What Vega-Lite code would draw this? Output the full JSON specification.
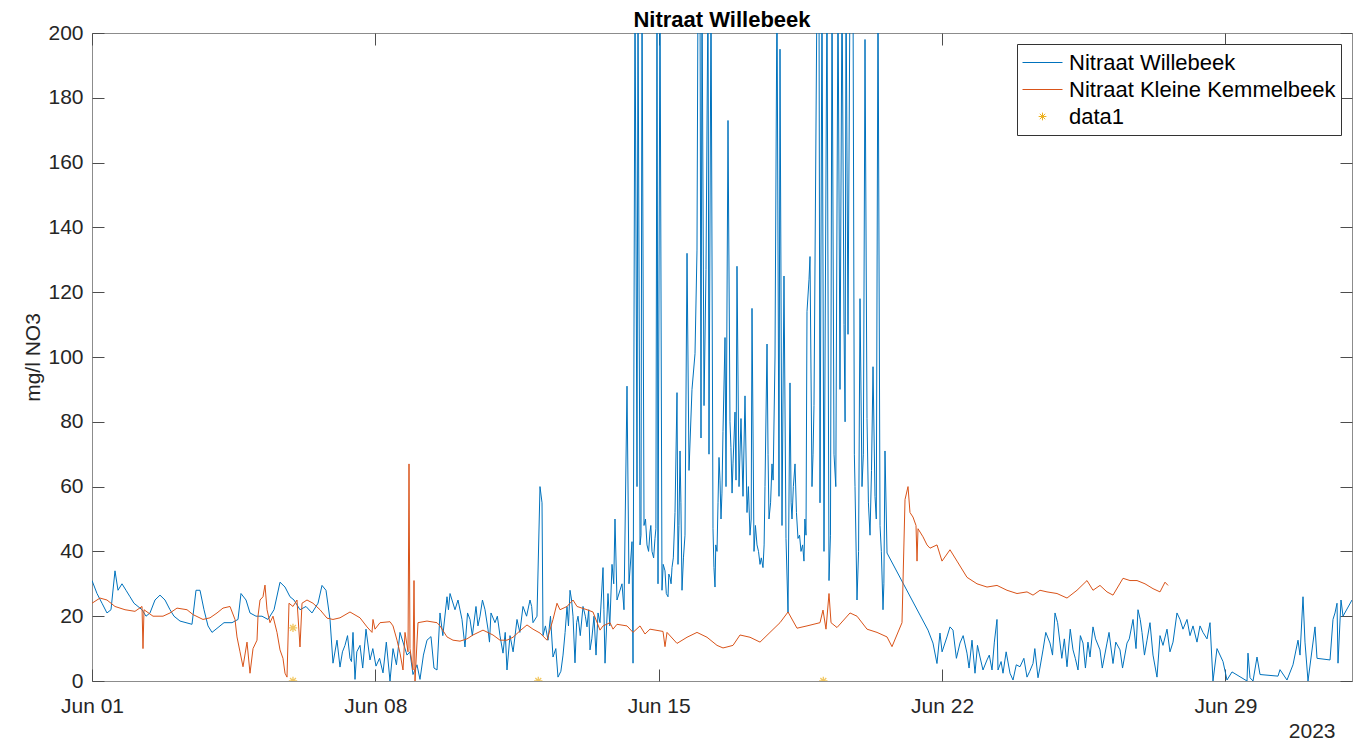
{
"$schema":"https://vega.github.io/schema/vega-lite/v6.json",
"width":1260,"height":648,
"autosize":"none",
"padding":{"left":92,"top":33,"right":11,"bottom":61},
"background":"white",
"title":{"text":"Nitraat Willebeek","fontSize":22,"font":"Liberation Sans","fontWeight":"bold","color":"#000000","offset":-10},
"config":{
 "view":{"stroke":"#8c8c8c","strokeWidth":1},
 "font":"Liberation Sans",
 "legend":{"orient":"top-right","offset":11,"labelFontSize":22,"labelFont":"Liberation Sans","labelColor":"#000000","strokeColor":"#333333","fillColor":"#ffffff","padding":5,"rowPadding":0,"clipHeight":27,"symbolType":"stroke","symbolSize":400,"symbolStrokeWidth":1,"labelOffset":6,"labelLimit":500}
},
"datasets":{
"w":[
{"t":"2023-06-01T00:00","v":31},{"t":"2023-06-01T02:58","v":27},{"t":"2023-06-01T05:56","v":24},{"t":"2023-06-01T08:53","v":21},{"t":"2023-06-01T11:16","v":22},{"t":"2023-06-01T13:38","v":34},{"t":"2023-06-01T15:25","v":28},{"t":"2023-06-01T17:47","v":30},{"t":"2023-06-01T20:10","v":28},{"t":"2023-06-01T22:32","v":26},
{"t":"2023-06-02T00:54","v":24},{"t":"2023-06-02T03:16","v":23},{"t":"2023-06-02T05:39","v":22},{"t":"2023-06-02T08:01","v":20},{"t":"2023-06-02T10:23","v":21},{"t":"2023-06-02T13:21","v":25},{"t":"2023-06-02T16:19","v":26.5},{"t":"2023-06-02T19:17","v":25},{"t":"2023-06-02T22:15","v":22},
{"t":"2023-06-03T00:37","v":20},{"t":"2023-06-03T04:11","v":18.5},{"t":"2023-06-03T07:44","v":18},{"t":"2023-06-03T11:17","v":17.5},{"t":"2023-06-03T13:40","v":28},{"t":"2023-06-03T16:02","v":28},{"t":"2023-06-03T18:24","v":22},{"t":"2023-06-03T20:47","v":17},{"t":"2023-06-03T23:09","v":15},
{"t":"2023-06-04T02:43","v":16.5},{"t":"2023-06-04T06:16","v":18},{"t":"2023-06-04T11:01","v":18},{"t":"2023-06-04T14:34","v":19},{"t":"2023-06-04T16:20","v":27},{"t":"2023-06-04T19:19","v":25},{"t":"2023-06-04T21:41","v":21},
{"t":"2023-06-05T01:14","v":20},{"t":"2023-06-05T04:47","v":20},{"t":"2023-06-05T08:21","v":19},{"t":"2023-06-05T11:55","v":22},{"t":"2023-06-05T15:28","v":30.5},{"t":"2023-06-05T18:26","v":29},{"t":"2023-06-05T21:24","v":26},{"t":"2023-06-05T23:46","v":25},
{"t":"2023-06-06T03:19","v":22},{"t":"2023-06-06T06:53","v":23},{"t":"2023-06-06T10:26","v":21},{"t":"2023-06-06T14:00","v":24},{"t":"2023-06-06T16:22","v":29.5},{"t":"2023-06-06T18:44","v":28},{"t":"2023-06-06T21:07","v":19},{"t":"2023-06-06T22:53","v":5.5},
{"t":"2023-06-07T01:16","v":12.6},{"t":"2023-06-07T03:02","v":4.3},{"t":"2023-06-07T06:00","v":11},{"t":"2023-06-07T08:58","v":7},{"t":"2023-06-07T10:45","v":15},{"t":"2023-06-07T11:56","v":0.5},{"t":"2023-06-07T14:54","v":11},{"t":"2023-06-07T18:27","v":16},{"t":"2023-06-07T20:50","v":6.5},
{"t":"2023-06-08T00:23","v":4.6},{"t":"2023-06-08T04:32","v":2.5},{"t":"2023-06-08T08:41","v":0},{"t":"2023-06-08T10:28","v":10},{"t":"2023-06-08T14:37","v":15},{"t":"2023-06-08T16:23","v":12},{"t":"2023-06-08T18:46","v":8},{"t":"2023-06-08T22:19","v":2},
{"t":"2023-06-09T00:41","v":5},{"t":"2023-06-09T02:28","v":0.5},{"t":"2023-06-09T06:37","v":12.6},{"t":"2023-06-09T08:59","v":13.7},{"t":"2023-06-09T10:46","v":4},{"t":"2023-06-09T12:33","v":3.4},{"t":"2023-06-09T14:20","v":21},{"t":"2023-06-09T18:29","v":26},{"t":"2023-06-09T20:16","v":27},{"t":"2023-06-09T23:13","v":22},
{"t":"2023-06-10T03:22","v":19},{"t":"2023-06-10T05:09","v":10.5},{"t":"2023-06-10T08:07","v":19},{"t":"2023-06-10T11:40","v":23},{"t":"2023-06-10T14:03","v":20},{"t":"2023-06-10T17:01","v":22},{"t":"2023-06-10T18:47","v":16},{"t":"2023-06-10T20:34","v":21},{"t":"2023-06-10T22:56","v":18},
{"t":"2023-06-11T01:54","v":14},{"t":"2023-06-11T03:41","v":8.6},{"t":"2023-06-11T06:03","v":3.4},{"t":"2023-06-11T07:50","v":14},{"t":"2023-06-11T11:59","v":19},{"t":"2023-06-11T15:32","v":23},{"t":"2023-06-11T19:41","v":25},{"t":"2023-06-11T21:28","v":18},{"t":"2023-06-11T23:50","v":20},
{"t":"2023-06-12T01:37","v":60},{"t":"2023-06-12T02:49","v":55},{"t":"2023-06-12T03:24","v":14},{"t":"2023-06-12T06:22","v":12.6},{"t":"2023-06-12T09:20","v":7.4},{"t":"2023-06-12T12:17","v":1.2},{"t":"2023-06-12T15:16","v":8},{"t":"2023-06-12T17:38","v":23},{"t":"2023-06-12T19:25","v":28},{"t":"2023-06-12T21:11","v":20},{"t":"2023-06-12T22:22","v":5.6},
{"t":"2023-06-13T00:09","v":20},{"t":"2023-06-13T03:07","v":23},{"t":"2023-06-13T05:29","v":16.7},{"t":"2023-06-13T07:16","v":9.6},{"t":"2023-06-13T09:38","v":20},{"t":"2023-06-13T12:01","v":21},{"t":"2023-06-13T13:12","v":18},{"t":"2023-06-13T14:59","v":35},{"t":"2023-06-13T16:10","v":5.5},{"t":"2023-06-13T17:56","v":27},{"t":"2023-06-13T20:19","v":36},{"t":"2023-06-13T22:05","v":50},{"t":"2023-06-13T23:16","v":25},
{"t":"2023-06-14T02:14","v":30},{"t":"2023-06-14T03:25","v":22},{"t":"2023-06-14T05:12","v":91},{"t":"2023-06-14T06:23","v":30},{"t":"2023-06-14T08:10","v":43},{"t":"2023-06-14T08:46","v":5.5},{"t":"2023-06-14T09:57","v":215},{"t":"2023-06-14T11:08","v":60},{"t":"2023-06-14T11:43","v":215},{"t":"2023-06-14T12:55","v":42},{"t":"2023-06-14T14:06","v":215},{"t":"2023-06-14T15:17","v":48},{"t":"2023-06-14T17:04","v":42},{"t":"2023-06-14T18:50","v":46},{"t":"2023-06-14T20:01","v":40},{"t":"2023-06-14T21:48","v":44},{"t":"2023-06-14T22:59","v":215},{"t":"2023-06-14T23:35","v":30},
{"t":"2023-06-15T00:46","v":215},{"t":"2023-06-15T01:57","v":28},{"t":"2023-06-15T03:44","v":34},{"t":"2023-06-15T05:31","v":26},{"t":"2023-06-15T06:42","v":32},{"t":"2023-06-15T07:53","v":35},{"t":"2023-06-15T09:40","v":52},{"t":"2023-06-15T10:51","v":89},{"t":"2023-06-15T11:26","v":36},{"t":"2023-06-15T12:38","v":71},{"t":"2023-06-15T13:49","v":28},{"t":"2023-06-15T15:35","v":45},{"t":"2023-06-15T16:47","v":132},{"t":"2023-06-15T17:58","v":65},{"t":"2023-06-15T19:44","v":90},{"t":"2023-06-15T21:31","v":101},{"t":"2023-06-15T22:42","v":133},{"t":"2023-06-15T23:18","v":215},
{"t":"2023-06-16T00:29","v":215},{"t":"2023-06-16T01:05","v":75},{"t":"2023-06-16T01:40","v":215},{"t":"2023-06-16T02:52","v":85},{"t":"2023-06-16T04:02","v":127},{"t":"2023-06-16T05:14","v":215},{"t":"2023-06-16T05:49","v":70},{"t":"2023-06-16T07:01","v":215},{"t":"2023-06-16T08:11","v":47},{"t":"2023-06-16T09:23","v":29},{"t":"2023-06-16T10:34","v":40},{"t":"2023-06-16T11:45","v":69},{"t":"2023-06-16T12:56","v":50},{"t":"2023-06-16T14:07","v":77},{"t":"2023-06-16T15:19","v":106},{"t":"2023-06-16T15:54","v":60},{"t":"2023-06-16T17:05","v":173},{"t":"2023-06-16T18:16","v":80},{"t":"2023-06-16T20:03","v":67},{"t":"2023-06-16T21:14","v":83},{"t":"2023-06-16T22:25","v":128},{"t":"2023-06-16T23:37","v":60},
{"t":"2023-06-17T00:47","v":81},{"t":"2023-06-17T01:59","v":57},{"t":"2023-06-17T03:10","v":88},{"t":"2023-06-17T04:21","v":52},{"t":"2023-06-17T06:08","v":45},{"t":"2023-06-17T07:19","v":115},{"t":"2023-06-17T08:30","v":40},{"t":"2023-06-17T10:17","v":42},{"t":"2023-06-17T12:04","v":36},{"t":"2023-06-17T13:50","v":35},{"t":"2023-06-17T15:01","v":60},{"t":"2023-06-17T16:13","v":104},{"t":"2023-06-17T17:23","v":50},{"t":"2023-06-17T19:10","v":67},{"t":"2023-06-17T20:57","v":100},{"t":"2023-06-17T22:08","v":215},{"t":"2023-06-17T23:19","v":57},{"t":"2023-06-17T23:55","v":195},
{"t":"2023-06-18T01:06","v":48},{"t":"2023-06-18T02:17","v":125},{"t":"2023-06-18T03:28","v":44},{"t":"2023-06-18T04:40","v":21},{"t":"2023-06-18T05:50","v":92},{"t":"2023-06-18T07:02","v":50},{"t":"2023-06-18T08:49","v":67},{"t":"2023-06-18T10:35","v":44},{"t":"2023-06-18T12:22","v":40},{"t":"2023-06-18T14:08","v":37},{"t":"2023-06-18T15:20","v":45},{"t":"2023-06-18T15:55","v":114},{"t":"2023-06-18T17:07","v":124},{"t":"2023-06-18T17:42","v":131},{"t":"2023-06-18T18:53","v":60},{"t":"2023-06-18T20:04","v":85},{"t":"2023-06-18T21:51","v":215},{"t":"2023-06-18T23:02","v":215},{"t":"2023-06-18T23:38","v":55},
{"t":"2023-06-19T00:49","v":215},{"t":"2023-06-19T02:00","v":40},{"t":"2023-06-19T03:47","v":215},{"t":"2023-06-19T04:58","v":31},{"t":"2023-06-19T06:45","v":215},{"t":"2023-06-19T07:56","v":70},{"t":"2023-06-19T10:18","v":215},{"t":"2023-06-19T11:29","v":90},{"t":"2023-06-19T12:41","v":215},{"t":"2023-06-19T13:52","v":110},{"t":"2023-06-19T15:03","v":215},{"t":"2023-06-19T16:14","v":107},{"t":"2023-06-19T17:25","v":215},{"t":"2023-06-19T19:12","v":215},{"t":"2023-06-19T20:23","v":60},{"t":"2023-06-19T21:34","v":25},{"t":"2023-06-19T23:21","v":118},
{"t":"2023-06-20T00:32","v":60},{"t":"2023-06-20T02:19","v":198},{"t":"2023-06-20T03:30","v":81},{"t":"2023-06-20T05:17","v":45},{"t":"2023-06-20T07:04","v":97},{"t":"2023-06-20T08:14","v":57},{"t":"2023-06-20T10:01","v":215},{"t":"2023-06-20T11:13","v":48},{"t":"2023-06-20T12:59","v":22},{"t":"2023-06-20T14:10","v":71},{"t":"2023-06-20T15:22","v":39.5},
{"t":"2023-06-21T15:40","v":15.7},{"t":"2023-06-21T18:37","v":11.7},{"t":"2023-06-21T20:59","v":5.4},{"t":"2023-06-21T22:46","v":14.8},
{"t":"2023-06-22T02:55","v":13.6},{"t":"2023-06-22T04:42","v":16.7},{"t":"2023-06-22T06:29","v":15.7},{"t":"2023-06-22T10:38","v":11.7},{"t":"2023-06-22T14:47","v":8.6},{"t":"2023-06-22T17:45","v":12.6},{"t":"2023-06-22T19:32","v":2.4},{"t":"2023-06-22T22:29","v":7.4},
{"t":"2023-06-23T00:16","v":3.4},{"t":"2023-06-23T02:39","v":6.5},{"t":"2023-06-23T05:37","v":3.4},{"t":"2023-06-23T08:34","v":19},{"t":"2023-06-23T09:10","v":3.4},{"t":"2023-06-23T12:08","v":2.4},{"t":"2023-06-23T16:17","v":2.4},{"t":"2023-06-23T18:04","v":0.3},{"t":"2023-06-23T22:13","v":4.4},
{"t":"2023-06-24T02:22","v":1.2},{"t":"2023-06-24T05:55","v":5.4},{"t":"2023-06-24T08:53","v":1},{"t":"2023-06-24T11:51","v":9.6},{"t":"2023-06-24T16:00","v":11.7},{"t":"2023-06-24T18:58","v":21},{"t":"2023-06-24T21:56","v":11.7},
{"t":"2023-06-25T02:05","v":4.4},{"t":"2023-06-25T05:38","v":9.6},{"t":"2023-06-25T08:36","v":3.4},{"t":"2023-06-25T11:34","v":11.7},{"t":"2023-06-25T15:43","v":7.4},{"t":"2023-06-25T17:29","v":16.7},{"t":"2023-06-25T21:38","v":9.6},
{"t":"2023-06-26T01:47","v":11.7},{"t":"2023-06-26T05:21","v":5.4},{"t":"2023-06-26T09:30","v":9.6},{"t":"2023-06-26T13:39","v":11.7},{"t":"2023-06-26T17:13","v":19},{"t":"2023-06-26T20:10","v":22},{"t":"2023-06-26T22:33","v":15},
{"t":"2023-06-27T01:31","v":12.6},{"t":"2023-06-27T03:17","v":18},{"t":"2023-06-27T05:04","v":8},{"t":"2023-06-27T07:26","v":1.2},{"t":"2023-06-27T09:13","v":14},{"t":"2023-06-27T10:59","v":11},{"t":"2023-06-27T13:22","v":16},{"t":"2023-06-27T15:08","v":9},{"t":"2023-06-27T16:56","v":12},{"t":"2023-06-27T19:17","v":21},{"t":"2023-06-27T21:05","v":19},{"t":"2023-06-27T22:51","v":16},
{"t":"2023-06-28T01:14","v":19},{"t":"2023-06-28T03:00","v":14},{"t":"2023-06-28T04:47","v":17},{"t":"2023-06-28T07:09","v":12},{"t":"2023-06-28T08:56","v":17},{"t":"2023-06-28T10:43","v":15},{"t":"2023-06-28T13:05","v":13},{"t":"2023-06-28T14:52","v":18},{"t":"2023-06-28T16:38","v":0},{"t":"2023-06-28T19:01","v":10},{"t":"2023-06-28T22:34","v":6},
{"t":"2023-06-29T00:56","v":0.3},{"t":"2023-06-29T03:55","v":2.8},{"t":"2023-06-29T12:48","v":0},{"t":"2023-06-29T13:23","v":8.6},{"t":"2023-06-29T14:35","v":1},{"t":"2023-06-29T16:22","v":0},{"t":"2023-06-29T18:44","v":7.4},{"t":"2023-06-29T20:31","v":2},
{"t":"2023-06-30T07:11","v":1.5},{"t":"2023-06-30T08:22","v":3.5},{"t":"2023-06-30T12:31","v":0.3},{"t":"2023-06-30T16:04","v":5},{"t":"2023-06-30T19:02","v":12.6},{"t":"2023-06-30T20:14","v":8},{"t":"2023-06-30T22:00","v":26},{"t":"2023-06-30T23:11","v":12},
{"t":"2023-07-01T00:58","v":0},{"t":"2023-07-01T05:07","v":16.7},{"t":"2023-07-01T06:18","v":7},{"t":"2023-07-01T14:01","v":6.5},{"t":"2023-07-01T15:47","v":19},{"t":"2023-07-01T16:58","v":21},{"t":"2023-07-01T18:10","v":24},{"t":"2023-07-01T18:45","v":5.5},{"t":"2023-07-01T20:32","v":25},{"t":"2023-07-01T21:43","v":20},{"t":"2023-07-02T03:03","v":25},
{"t":"2023-06-07T04:30","v":9},{"t":"2023-06-07T07:30","v":14},{"t":"2023-06-07T09:50","v":6},{"t":"2023-06-07T13:00","v":9},{"t":"2023-06-07T16:30","v":4},{"t":"2023-06-07T22:30","v":10},{"t":"2023-06-08T02:30","v":7},{"t":"2023-06-08T06:30","v":12},{"t":"2023-06-08T12:30","v":5},{"t":"2023-06-08T20:30","v":9},{"t":"2023-06-09T04:30","v":8},
{"t":"2023-06-09T16:00","v":14},{"t":"2023-06-09T19:20","v":22},{"t":"2023-06-10T01:00","v":25},{"t":"2023-06-10T06:40","v":21},{"t":"2023-06-10T09:30","v":14},{"t":"2023-06-10T12:50","v":17},{"t":"2023-06-10T15:30","v":25},{"t":"2023-06-10T19:40","v":12},{"t":"2023-06-11T00:20","v":20},{"t":"2023-06-11T05:00","v":15},{"t":"2023-06-11T09:40","v":9},{"t":"2023-06-11T13:40","v":15},{"t":"2023-06-11T17:40","v":20},{"t":"2023-06-11T20:40","v":23},
{"t":"2023-06-12T04:50","v":17},{"t":"2023-06-12T07:50","v":20},{"t":"2023-06-12T11:00","v":10},{"t":"2023-06-12T14:00","v":3},{"t":"2023-06-12T16:30","v":15},{"t":"2023-06-12T18:30","v":17},{"t":"2023-06-12T20:20","v":25},{"t":"2023-06-12T23:20","v":18},{"t":"2023-06-13T01:30","v":14},{"t":"2023-06-13T04:30","v":20},{"t":"2023-06-13T06:30","v":22},{"t":"2023-06-13T08:20","v":13},{"t":"2023-06-13T10:50","v":8},{"t":"2023-06-13T15:30","v":22},{"t":"2023-06-13T19:00","v":17},{"t":"2023-06-13T21:20","v":30},
{"t":"2023-06-14T13:30","v":45},{"t":"2023-06-14T16:10","v":50},{"t":"2023-06-14T18:00","v":40},{"t":"2023-06-14T19:20","v":48},{"t":"2023-06-14T21:00","v":38},{"t":"2023-06-14T22:20","v":47},
{"t":"2023-06-15T02:40","v":36},{"t":"2023-06-15T04:30","v":27},{"t":"2023-06-15T06:00","v":33},{"t":"2023-06-15T07:20","v":30},{"t":"2023-06-15T08:40","v":38},{"t":"2023-06-15T12:00","v":48},{"t":"2023-06-15T13:10","v":55},{"t":"2023-06-15T14:40","v":38},
{"t":"2023-06-16T08:45","v":35},{"t":"2023-06-16T09:50","v":42},{"t":"2023-06-16T11:10","v":55},{"t":"2023-06-16T12:20","v":62},{"t":"2023-06-16T13:30","v":58},{"t":"2023-06-16T18:50","v":72},{"t":"2023-06-16T19:30","v":58},{"t":"2023-06-16T20:40","v":75},{"t":"2023-06-16T21:50","v":62},
{"t":"2023-06-17T05:10","v":60},{"t":"2023-06-17T06:50","v":50},{"t":"2023-06-17T09:20","v":48},{"t":"2023-06-17T11:10","v":40},{"t":"2023-06-17T12:50","v":38},{"t":"2023-06-17T14:30","v":42},{"t":"2023-06-17T16:50","v":70},{"t":"2023-06-17T18:20","v":55},{"t":"2023-06-17T19:50","v":62},
{"t":"2023-06-18T06:30","v":55},{"t":"2023-06-18T07:50","v":60},{"t":"2023-06-18T09:40","v":52},{"t":"2023-06-18T11:30","v":45},{"t":"2023-06-18T13:20","v":42},{"t":"2023-06-18T14:40","v":50},{"t":"2023-06-18T19:30","v":70},
{"t":"2023-06-19T05:50","v":45},{"t":"2023-06-19T09:00","v":60},{"t":"2023-06-19T14:30","v":80},{"t":"2023-06-19T20:00","v":70},{"t":"2023-06-19T22:30","v":40},{"t":"2023-06-20T01:20","v":70},{"t":"2023-06-20T04:20","v":55},{"t":"2023-06-20T06:10","v":65},{"t":"2023-06-20T09:00","v":50},{"t":"2023-06-20T12:00","v":40},{"t":"2023-06-20T13:30","v":30},
{"t":"2023-06-22T00:00","v":9},{"t":"2023-06-22T08:30","v":7},{"t":"2023-06-22T12:30","v":14},{"t":"2023-06-22T16:00","v":4},{"t":"2023-06-22T21:00","v":11},{"t":"2023-06-23T04:00","v":8},{"t":"2023-06-23T07:00","v":12},{"t":"2023-06-23T11:00","v":6},{"t":"2023-06-23T14:00","v":9},{"t":"2023-06-23T20:00","v":5},
{"t":"2023-06-24T00:30","v":7},{"t":"2023-06-24T04:00","v":3},{"t":"2023-06-24T07:00","v":10},{"t":"2023-06-24T10:00","v":4},{"t":"2023-06-24T13:30","v":15},{"t":"2023-06-24T17:30","v":8},{"t":"2023-06-24T20:30","v":18},{"t":"2023-06-24T23:00","v":7},
{"t":"2023-06-25T00:30","v":13},{"t":"2023-06-25T04:00","v":16},{"t":"2023-06-25T07:00","v":7},{"t":"2023-06-25T10:00","v":14},{"t":"2023-06-25T13:00","v":4},{"t":"2023-06-25T14:30","v":12},{"t":"2023-06-25T19:00","v":13},{"t":"2023-06-25T23:00","v":4},
{"t":"2023-06-26T03:00","v":15},{"t":"2023-06-26T07:00","v":12},{"t":"2023-06-26T11:00","v":4},{"t":"2023-06-26T15:00","v":13},{"t":"2023-06-26T19:00","v":10},{"t":"2023-06-26T21:30","v":19},{"t":"2023-06-27T00:00","v":8}
],
"k":[
{"t":"2023-06-01T00:00","v":24},{"t":"2023-06-01T04:44","v":25.6},{"t":"2023-06-01T08:53","v":25},{"t":"2023-06-01T13:38","v":23},{"t":"2023-06-01T19:34","v":22},{"t":"2023-06-02T01:29","v":21.5},{"t":"2023-06-02T05:39","v":23},{"t":"2023-06-02T06:14","v":10},{"t":"2023-06-02T06:50","v":22},{"t":"2023-06-02T12:10","v":20},{"t":"2023-06-02T18:06","v":20},{"t":"2023-06-02T22:15","v":21},
{"t":"2023-06-03T02:24","v":22.5},{"t":"2023-06-03T08:20","v":22},{"t":"2023-06-03T11:53","v":20.5},{"t":"2023-06-03T17:49","v":19},{"t":"2023-06-03T21:58","v":19.5},{"t":"2023-06-04T02:07","v":21},{"t":"2023-06-04T05:40","v":22.5},{"t":"2023-06-04T09:49","v":23},{"t":"2023-06-04T12:47","v":19},{"t":"2023-06-04T13:58","v":13.6},{"t":"2023-06-04T15:45","v":9},{"t":"2023-06-04T17:32","v":4.4},{"t":"2023-06-04T19:54","v":12},{"t":"2023-06-04T21:41","v":2.4},{"t":"2023-06-04T23:28","v":10},
{"t":"2023-06-05T01:50","v":12.6},{"t":"2023-06-05T02:25","v":20},{"t":"2023-06-05T03:37","v":25},{"t":"2023-06-05T05:23","v":26},{"t":"2023-06-05T06:34","v":29.6},{"t":"2023-06-05T07:46","v":22},{"t":"2023-06-05T09:32","v":18},{"t":"2023-06-05T11:19","v":20},{"t":"2023-06-05T13:41","v":15},{"t":"2023-06-05T15:28","v":9.6},{"t":"2023-06-05T17:14","v":7},{"t":"2023-06-05T18:26","v":2.4},{"t":"2023-06-05T19:37","v":1.2},{"t":"2023-06-05T20:48","v":24},{"t":"2023-06-05T23:10","v":23},
{"t":"2023-06-06T01:32","v":25},{"t":"2023-06-06T03:19","v":10.5},{"t":"2023-06-06T04:31","v":24},{"t":"2023-06-06T07:28","v":25},{"t":"2023-06-06T11:02","v":24},{"t":"2023-06-06T15:11","v":22},{"t":"2023-06-06T19:20","v":19.4},{"t":"2023-06-06T22:53","v":19},
{"t":"2023-06-07T03:02","v":19.5},{"t":"2023-06-07T08:58","v":21.3},{"t":"2023-06-07T14:54","v":19.5},{"t":"2023-06-07T19:03","v":16.7},{"t":"2023-06-07T22:01","v":15},{"t":"2023-06-07T22:36","v":19},{"t":"2023-06-07T23:47","v":16},
{"t":"2023-06-08T02:46","v":18},{"t":"2023-06-08T08:41","v":18.3},{"t":"2023-06-08T10:28","v":17},{"t":"2023-06-08T12:50","v":12.6},{"t":"2023-06-08T14:37","v":8.6},{"t":"2023-06-08T16:23","v":3.4},{"t":"2023-06-08T17:35","v":15},{"t":"2023-06-08T19:22","v":9},{"t":"2023-06-08T19:57","v":67},{"t":"2023-06-08T20:32","v":10},{"t":"2023-06-08T22:19","v":3.4},{"t":"2023-06-08T22:55","v":31},{"t":"2023-06-08T23:31","v":0},
{"t":"2023-06-09T01:17","v":18},{"t":"2023-06-09T06:37","v":18.5},{"t":"2023-06-09T12:33","v":18},{"t":"2023-06-09T14:20","v":17},{"t":"2023-06-09T18:29","v":13.6},{"t":"2023-06-09T22:02","v":12.6},
{"t":"2023-06-10T02:11","v":12.3},{"t":"2023-06-10T06:20","v":13},{"t":"2023-06-10T09:53","v":14.2},{"t":"2023-06-10T15:49","v":15.7},{"t":"2023-06-10T21:45","v":14.2},
{"t":"2023-06-11T01:54","v":12.6},{"t":"2023-06-11T06:03","v":12.6},{"t":"2023-06-11T09:37","v":13.5},{"t":"2023-06-11T13:46","v":15.5},{"t":"2023-06-11T17:55","v":17.3},{"t":"2023-06-11T21:28","v":16},
{"t":"2023-06-12T01:37","v":14.8},{"t":"2023-06-12T05:46","v":12.6},{"t":"2023-06-12T09:20","v":19},{"t":"2023-06-12T11:42","v":24},{"t":"2023-06-12T13:29","v":22},{"t":"2023-06-12T17:38","v":23},{"t":"2023-06-12T21:11","v":25},{"t":"2023-06-12T23:34","v":23},
{"t":"2023-06-13T05:29","v":22},{"t":"2023-06-13T09:02","v":21.3},{"t":"2023-06-13T13:12","v":15.7},{"t":"2023-06-13T14:59","v":17},{"t":"2023-06-13T19:08","v":18},{"t":"2023-06-13T20:55","v":16},{"t":"2023-06-13T23:16","v":17.5},
{"t":"2023-06-14T05:12","v":17},{"t":"2023-06-14T08:46","v":15},{"t":"2023-06-14T12:55","v":17},{"t":"2023-06-14T15:52","v":14.5},{"t":"2023-06-14T18:50","v":16},
{"t":"2023-06-15T02:33","v":15.3},{"t":"2023-06-15T03:44","v":10.6},{"t":"2023-06-15T04:55","v":15},{"t":"2023-06-15T10:51","v":11.6},{"t":"2023-06-15T16:47","v":13.5},{"t":"2023-06-15T22:42","v":15},
{"t":"2023-06-16T04:38","v":13.5},{"t":"2023-06-16T10:34","v":11},{"t":"2023-06-16T14:07","v":10.2},{"t":"2023-06-16T16:29","v":10.5},{"t":"2023-06-16T20:03","v":11},
{"t":"2023-06-17T00:12","v":14.2},{"t":"2023-06-17T06:08","v":13.5},{"t":"2023-06-17T12:04","v":12},{"t":"2023-06-17T17:59","v":15},{"t":"2023-06-17T23:55","v":18},
{"t":"2023-06-18T04:40","v":21.3},{"t":"2023-06-18T10:00","v":16.3},{"t":"2023-06-18T15:55","v":17},{"t":"2023-06-18T23:38","v":18},
{"t":"2023-06-19T01:25","v":21.9},{"t":"2023-06-19T03:11","v":16},{"t":"2023-06-19T04:58","v":27},{"t":"2023-06-19T06:10","v":18},{"t":"2023-06-19T09:43","v":16.5},{"t":"2023-06-19T17:25","v":21},{"t":"2023-06-19T21:34","v":20},
{"t":"2023-06-20T03:30","v":16},{"t":"2023-06-20T09:26","v":15},{"t":"2023-06-20T15:22","v":13.6},{"t":"2023-06-20T18:19","v":10.6},
{"t":"2023-06-21T00:15","v":18},{"t":"2023-06-21T02:02","v":56},{"t":"2023-06-21T03:49","v":60},{"t":"2023-06-21T04:59","v":52},{"t":"2023-06-21T06:46","v":50.6},{"t":"2023-06-21T08:33","v":48},{"t":"2023-06-21T09:09","v":37},{"t":"2023-06-21T09:44","v":47},{"t":"2023-06-21T12:42","v":44.5},{"t":"2023-06-21T15:04","v":42},{"t":"2023-06-21T16:51","v":41},{"t":"2023-06-21T21:00","v":42},{"t":"2023-06-21T23:58","v":37},
{"t":"2023-06-22T04:42","v":40.5},{"t":"2023-06-22T08:52","v":37},{"t":"2023-06-22T14:47","v":32},{"t":"2023-06-22T20:43","v":30},
{"t":"2023-06-23T02:39","v":29},{"t":"2023-06-23T08:34","v":29.5},{"t":"2023-06-23T14:30","v":28},{"t":"2023-06-23T20:26","v":27},
{"t":"2023-06-24T02:22","v":27.5},{"t":"2023-06-24T05:55","v":26.5},{"t":"2023-06-24T10:04","v":28},{"t":"2023-06-24T14:13","v":27.5},{"t":"2023-06-24T20:09","v":27},
{"t":"2023-06-25T02:05","v":25.6},{"t":"2023-06-25T08:00","v":28},{"t":"2023-06-25T13:56","v":31},{"t":"2023-06-25T17:29","v":28},{"t":"2023-06-25T21:38","v":29.5},
{"t":"2023-06-26T01:47","v":27.5},{"t":"2023-06-26T05:21","v":26.5},{"t":"2023-06-26T11:17","v":31.7},{"t":"2023-06-26T15:26","v":31},{"t":"2023-06-26T19:35","v":31},
{"t":"2023-06-27T00:19","v":30},{"t":"2023-06-27T05:04","v":28.5},{"t":"2023-06-27T09:13","v":27.5},{"t":"2023-06-27T12:11","v":30.5},{"t":"2023-06-27T13:58","v":29.5}
],
"s":[
{"t":"2023-06-05T23:10","v":0},{"t":"2023-06-05T23:10","v":16.4},{"t":"2023-06-12T00:36","v":0},{"t":"2023-06-19T01:36","v":0}
]
},
"layer":[
{
 "data":{"name":"w"},
 "mark":{"type":"line","clip":true,"strokeWidth":1},
 "encoding":{
  "x":{"field":"t","type":"temporal",
   "scale":{"domain":[{"year":2023,"month":6,"date":1},{"year":2023,"month":7,"date":2,"hours":3,"minutes":3}]},
   "axis":{"orient":"bottom","values":[{"year":2023,"month":6,"date":1},{"year":2023,"month":6,"date":8},{"year":2023,"month":6,"date":15},{"year":2023,"month":6,"date":22},{"year":2023,"month":6,"date":29}],
    "format":"%b %d","labelFontSize":21,"labelFont":"Liberation Sans","labelColor":"#262626","labelFlush":false,"labelPadding":26,
    "tickSize":-12,"tickColor":"#4d4d4d","domain":false,"grid":false,
    "title":"2023","titleFont":"Liberation Sans","titleFontSize":21,"titleFontWeight":"normal","titleColor":"#262626","titleAnchor":"end","titleAlign":"right","titleX":1243,"titlePadding":4}},
  "y":{"field":"v","type":"quantitative",
   "scale":{"domain":[0,200],"nice":false},
   "axis":{"orient":"left","values":[0,20,40,60,80,100,120,140,160,180,200],"labelFontSize":21,"labelFont":"Liberation Sans","labelColor":"#262626","labelPadding":21,
    "tickSize":-12,"tickColor":"#4d4d4d","domain":false,"grid":false,
    "title":"mg/l NO3","titleFont":"Liberation Sans","titleFontSize":21,"titleFontWeight":"normal","titleColor":"#262626","titlePadding":4}},
  "color":{"datum":"Nitraat Willebeek",
   "scale":{"domain":["Nitraat Willebeek","Nitraat Kleine Kemmelbeek","data1"],"range":["#0072BD","#D95319","#EDB120"]},
   "legend":{"title":null,
    "encode":{"symbols":{"update":{
     "shape":{"signal":"datum.value === 'data1' ? 'M-1,0L1,0M0,-1L0,1M-0.7,-0.7L0.7,0.7M-0.7,0.7L0.7,-0.7' : 'stroke'"},
     "size":{"signal":"datum.value === 'data1' ? 60 : 1600"},
     "stroke":{"scale":"color","field":"value"},
     "strokeWidth":{"value":1},
     "fill":{"value":"transparent"}}}}}}
 }
},
{
 "data":{"name":"k"},
 "mark":{"type":"line","clip":true,"strokeWidth":1},
 "encoding":{
  "x":{"field":"t","type":"temporal",
   "axis":{"orient":"top","values":[{"year":2023,"month":6,"date":1},{"year":2023,"month":6,"date":8},{"year":2023,"month":6,"date":15},{"year":2023,"month":6,"date":22},{"year":2023,"month":6,"date":29}],
    "labels":false,"tickSize":-12,"tickColor":"#4d4d4d","domain":false,"grid":false,"title":null,"minExtent":0,"maxExtent":0}},
  "y":{"field":"v","type":"quantitative",
   "axis":{"orient":"right","values":[0,20,40,60,80,100,120,140,160,180,200],"labels":false,"tickSize":-12,"tickColor":"#4d4d4d","domain":false,"grid":false,"title":null,"minExtent":0,"maxExtent":0}},
  "color":{"datum":"Nitraat Kleine Kemmelbeek"}
 }
},
{
 "data":{"name":"s"},
 "mark":{"type":"point","filled":false,"clip":true,"size":70,"strokeWidth":1.3,"shape":"M-1,0L1,0M0,-1L0,1M-0.7,-0.7L0.7,0.7M-0.7,0.7L0.7,-0.7"},
 "encoding":{
  "x":{"field":"t","type":"temporal","axis":null},
  "y":{"field":"v","type":"quantitative","axis":null},
  "color":{"datum":"data1"}
 }
}
],
"resolve":{"axis":{"x":"independent","y":"independent"}}
}
